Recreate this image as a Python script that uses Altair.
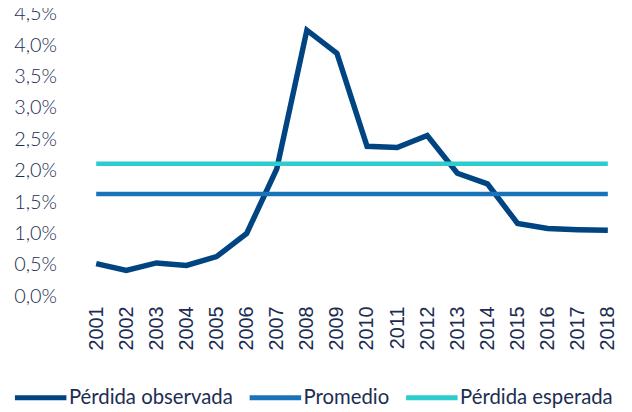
import altair as alt
import pandas as pd

years = ["2001", "2002", "2003", "2004", "2005", "2006", "2007", "2008", "2009",
         "2010", "2011", "2012", "2013", "2014", "2015", "2016", "2017", "2018"]
observada = [0.0052, 0.0041, 0.0053, 0.0049, 0.0063, 0.0100, 0.0203, 0.0424, 0.0387,
             0.0239, 0.0237, 0.0256, 0.0196, 0.0179, 0.0116, 0.0108, 0.0106, 0.0105]
promedio = 0.0163
esperada = 0.0211
y_ticks = [0.0, 0.005, 0.01, 0.015, 0.02, 0.025, 0.03, 0.035, 0.04, 0.045]

series = ["Pérdida observada", "Promedio", "Pérdida esperada"]
colors = ["#004481", "#1973B8", "#2DCCCD"]

df_obs = pd.DataFrame({"year": years, "value": observada, "serie": series[0]})
df_h = pd.DataFrame({
    "year": years + years,
    "value": [promedio] * len(years) + [esperada] * len(years),
    "serie": [series[1]] * len(years) + [series[2]] * len(years),
})

text_color = "#1c2d52"

x = alt.X("year:O", title=None,
          scale=alt.Scale(type="point", paddingOuter=0.38, align=0.66),
          axis=alt.Axis(labelAngle=270, domain=False, ticks=False, grid=False,
                        labelFont="Liberation Sans", labelFontSize=20,
                        labelColor=text_color, labelPadding=10))
y = alt.Y("value:Q", title=None,
          scale=alt.Scale(domain=[0, 0.045], nice=False, zero=True),
          axis=alt.Axis(values=y_ticks, domain=False, ticks=False, grid=False,
                        labelExpr="replace(format(datum.value, '.1%'), '.', ',')",
                        labelFont="Lato", labelFontSize=20, labelFontWeight=300,
                        labelColor=text_color, labelPadding=20))
color = alt.Color("serie:N", title=None,
                  scale=alt.Scale(domain=series, range=colors),
                  legend=alt.Legend(orient="none", direction="horizontal",
                                    legendX=-64.5, legendY=359,
                                    symbolType="stroke", symbolSize=2704,
                                    symbolStrokeWidth=5, labelFont="Lato",
                                    labelFontSize=20.5, labelColor=text_color,
                                    labelOffset=0, columnPadding=6,
                                    labelLimit=300))

obs = alt.Chart(df_obs).mark_line(strokeWidth=5.5).encode(x=x, y=y, color=color)
hor = alt.Chart(df_h).mark_line(strokeWidth=4.5).encode(
    x=x, y=y, color=color, detail="serie:N")

chart = alt.layer(obs, hor).properties(
    width=547, height=285,
    padding={"left": 69, "top": 4, "right": 6, "bottom": 115},
    autosize=alt.AutoSizeParams(type="none"),
).configure_view(stroke=None)

chart.save("out.html", embed_options={"renderer": "svg", "actions": False})
